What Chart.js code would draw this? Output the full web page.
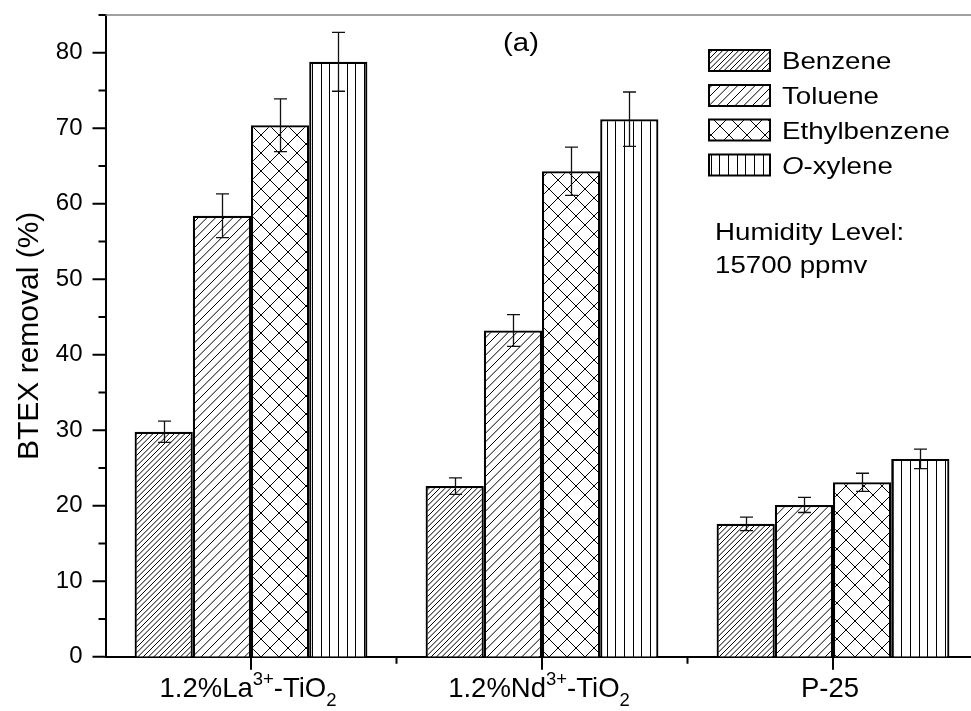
<!DOCTYPE html>
<html><head><meta charset="utf-8">
<script src="https://cdn.jsdelivr.net/npm/chart.js@4"></script>
<style>html,body{margin:0;padding:0;background:#fff;overflow:hidden}#wrap{width:1000px;height:711px}</style>
</head><body><div id="wrap"><canvas id="c" width="1000" height="711"></canvas></div>
<script>
// ---- data ----
const categories = ['1.2%La3+-TiO2', '1.2%Nd3+-TiO2', 'P-25'];
const seriesNames = ['Benzene', 'Toluene', 'Ethylbenzene', 'O-xylene'];
const benzene = [29.8, 22.6, 17.6];
const toluene = [58.4, 43.2, 20.1];
const ethylbenzene = [70.4, 64.3, 23.1];
const oxylene = [78.8, 71.2, 26.2];
const benzeneErr = [1.4, 1.1, 0.9];
const tolueneErr = [2.9, 2.1, 1.0];
const ethylbenzeneErr = [3.5, 3.2, 1.2];
const oxyleneErr = [3.9, 3.6, 1.3];
const yMajorTicks = [0, 10, 20, 30, 40, 50, 60, 70, 80];
const yTitle = 'BTEX removal (%)';
const panelLabel = '(a)';
const noteLines = ['Humidity Level:', '15700 ppmv'];
// category labels split into rich-text parts: [text, kind]
const categoryParts = [
  [['1.2%La', 'n'], ['3+', 'sup'], ['-TiO', 'n'], ['2', 'sub']],
  [['1.2%Nd', 'n'], ['3+', 'sup'], ['-TiO', 'n'], ['2', 'sub']],
  [['P-25', 'n']]
];

const FONT = '"Liberation Sans", Arial, sans-serif';
const SX = 1.13; // horizontal text stretch of the original figure

const canvas = document.getElementById('c');
const mainCtx = canvas.getContext('2d');

function tile(S, draw) {
  const c = document.createElement('canvas');
  c.width = S; c.height = S;
  const g = c.getContext('2d');
  g.fillStyle = '#fff'; g.fillRect(0, 0, S, S);
  g.strokeStyle = '#000'; g.lineWidth = 1;
  g.beginPath(); draw(g, S); g.stroke();
  return mainCtx.createPattern(c, 'repeat');
}
function diagUp(g, S, n) { for (let j = -1; j <= 2 * n + 1; j++) { const cc = j * S / n; g.moveTo(cc + 1, -1); g.lineTo(cc - S - 1, S + 1); } }
function diagDown(g, S, n) { for (let j = -n - 1; j <= n + 1; j++) { const cc = j * S / n; g.moveTo(cc - 1, -1); g.lineTo(cc + S + 1, S + 1); } }

const patBenzene = tile(16, (g, S) => diagUp(g, S, 3));
const patToluene = tile(26, (g, S) => diagUp(g, S, 3));
const patEthyl = tile(18, (g, S) => { diagUp(g, S, 1); diagDown(g, S, 1); });
const patOxy = tile(26, (g, S) => { for (let j = 0; j < 3; j++) { const x = Math.round(j * S / 3) + 0.5; g.moveTo(x, 0); g.lineTo(x, S); } });

const seriesValues = [benzene, toluene, ethylbenzene, oxylene];
const seriesErrors = [benzeneErr, tolueneErr, ethylbenzeneErr, oxyleneErr];
const patterns = [patBenzene, patToluene, patEthyl, patOxy];

function drawStretched(ctx, txt, x, y, size, align, style, sx) {
  const k = sx || SX;
  ctx.save();
  ctx.font = (style || '') + ' ' + size + 'px ' + FONT;
  ctx.textBaseline = 'alphabetic';
  ctx.textAlign = 'left';
  const w = ctx.measureText(txt).width * k;
  let x0 = x;
  if (align === 'center') x0 = x - w / 2; else if (align === 'right') x0 = x - w;
  ctx.translate(x0, y); ctx.scale(k, 1);
  ctx.fillStyle = '#000';
  ctx.fillText(txt, 0, 0);
  ctx.restore();
  return w;
}
function measureStretched(ctx, txt, size, style, sx) {
  const k = sx || SX;
  ctx.save(); ctx.font = (style || '') + ' ' + size + 'px ' + FONT;
  const w = ctx.measureText(txt).width * k; ctx.restore(); return w;
}

const decor = {
  id: 'decor',
  afterDatasetsDraw(chart) {
    const ctx = chart.ctx, ys = chart.scales.y;
    ctx.save();
    ctx.strokeStyle = '#111'; ctx.lineWidth = 1.3;
    seriesErrors.forEach((errs, i) => {
      const meta = chart.getDatasetMeta(i);
      meta.data.forEach((bar, j) => {
        const v = seriesValues[i][j], e = errs[j];
        const x = Math.round(bar.x) + 0.5;
        const yt = ys.getPixelForValue(v + e), yb = ys.getPixelForValue(v - e);
        ctx.beginPath();
        ctx.moveTo(x, yt); ctx.lineTo(x, yb);
        ctx.moveTo(x - 6.5, yt); ctx.lineTo(x + 6.5, yt);
        ctx.moveTo(x - 6.5, yb); ctx.lineTo(x + 6.5, yb);
        ctx.stroke();
      });
    });
    ctx.restore();
  },
  afterDraw(chart) {
    const ctx = chart.ctx, xs = chart.scales.x, ys = chart.scales.y, ca = chart.chartArea;
    ctx.save();
    // top frame line
    ctx.strokeStyle = '#808080'; ctx.lineWidth = 1.5;
    ctx.beginPath(); ctx.moveTo(ca.left - 1, ca.top); ctx.lineTo(chart.width, ca.top); ctx.stroke();
    // y ticks (major outward 13, minor 7)
    ctx.strokeStyle = '#000'; ctx.lineWidth = 2;
    ctx.beginPath();
    for (let v = 0; v <= 85; v += 5) {
      const y = ys.getPixelForValue(v);
      const len = yMajorTicks.includes(v) ? 13 : 7;
      ctx.moveTo(ca.left, y); ctx.lineTo(ca.left - len, y);
    }
    // x ticks: major at category centres, minor at boundaries
    const n = categories.length;
    for (let i = 0; i < n; i++) {
      const x = xs.getPixelForValue(i);
      ctx.moveTo(x, ca.bottom); ctx.lineTo(x, ca.bottom + 13);
    }
    for (let i = 0; i < n - 1; i++) {
      const x = (xs.getPixelForValue(i) + xs.getPixelForValue(i + 1)) / 2;
      ctx.moveTo(x, ca.bottom); ctx.lineTo(x, ca.bottom + 7);
    }
    ctx.stroke();
    // x category labels with super/subscripts
    const base = 697, big = 27.5, small = 18.5, lsx = 1.0;
    categoryParts.forEach((parts, i) => {
      let total = 0;
      parts.forEach(([t, k]) => { total += measureStretched(ctx, t, k === 'n' ? big : small, '', lsx); });
      let x = xs.getPixelForValue(i) - total / 2 - 3;
      parts.forEach(([t, k]) => {
        const sz = k === 'n' ? big : small;
        const yy = k === 'sup' ? base - 12 : (k === 'sub' ? base + 9 : base);
        x += drawStretched(ctx, t, x, yy, sz, 'left', '', lsx);
      });
    });
    // panel label
    drawStretched(ctx, panelLabel, 521, 51, 26, 'center');
    // note
    drawStretched(ctx, noteLines[0], 715, 240, 24.5, 'left');
    drawStretched(ctx, noteLines[1], 715, 273, 24.5, 'left');
    // legend
    const rowsY = [60.5, 95.5, 130, 165];
    seriesNames.forEach((name, i) => {
      const cy = rowsY[i];
      const bx = 709, bw = 61, bh = 21;
      ctx.fillStyle = patterns[i];
      ctx.fillRect(bx, cy - bh / 2, bw, bh);
      ctx.strokeStyle = '#000'; ctx.lineWidth = 2;
      ctx.strokeRect(bx, cy - bh / 2, bw, bh);
      const ty = cy + 8.5;
      if (name.startsWith('O-')) {
        const w = drawStretched(ctx, 'O', 782, ty, 24.5, 'left', 'italic');
        drawStretched(ctx, name.slice(1), 782 + w, ty, 24.5, 'left');
      } else {
        drawStretched(ctx, name, 782, ty, 24.5, 'left');
      }
    });
    ctx.restore();
  }
};

const chart = new Chart(mainCtx, {
  type: 'bar',
  data: {
    labels: categories,
    datasets: seriesNames.map((name, i) => ({
      label: name,
      data: seriesValues[i],
      backgroundColor: patterns[i],
      borderColor: '#000',
      borderWidth: 2.2,
      barPercentage: 1.0,
      categoryPercentage: 0.8
    }))
  },
  options: {
    responsive: false,
    animation: false,
    events: [],
    layout: { padding: { top: 15, right: 21.5, left: 0, bottom: 0 } },
    plugins: { legend: { display: false }, tooltip: { enabled: false } },
    scales: {
      x: {
        grid: { display: false, drawTicks: false },
        border: { display: true, color: '#000', width: 2 },
        ticks: { display: false },
        afterFit(s) { s.height = 54.3; s.paddingLeft = 0; s.paddingRight = 0; s.paddingTop = 0; s.paddingBottom = 0; }
      },
      y: {
        min: 0, max: 85,
        grid: { display: false, drawTicks: false },
        border: { display: true, color: '#000', width: 2 },
        ticks: {
          stepSize: 5, autoSkip: false, color: '#000',
          font: { family: FONT, size: 24 }, padding: 23,
          callback: v => (yMajorTicks.includes(v) ? String(v) : '')
        },
        title: { display: true, text: yTitle, color: '#000', font: { family: FONT, size: 30 }, padding: { top: 12, bottom: 0 } },
        afterFit(s) { s.width = 105.5; s.paddingTop = 0; s.paddingBottom = 0; s.paddingLeft = 0; s.paddingRight = 0; }
      }
    }
  },
  plugins: [decor]
});
</script></body></html>
